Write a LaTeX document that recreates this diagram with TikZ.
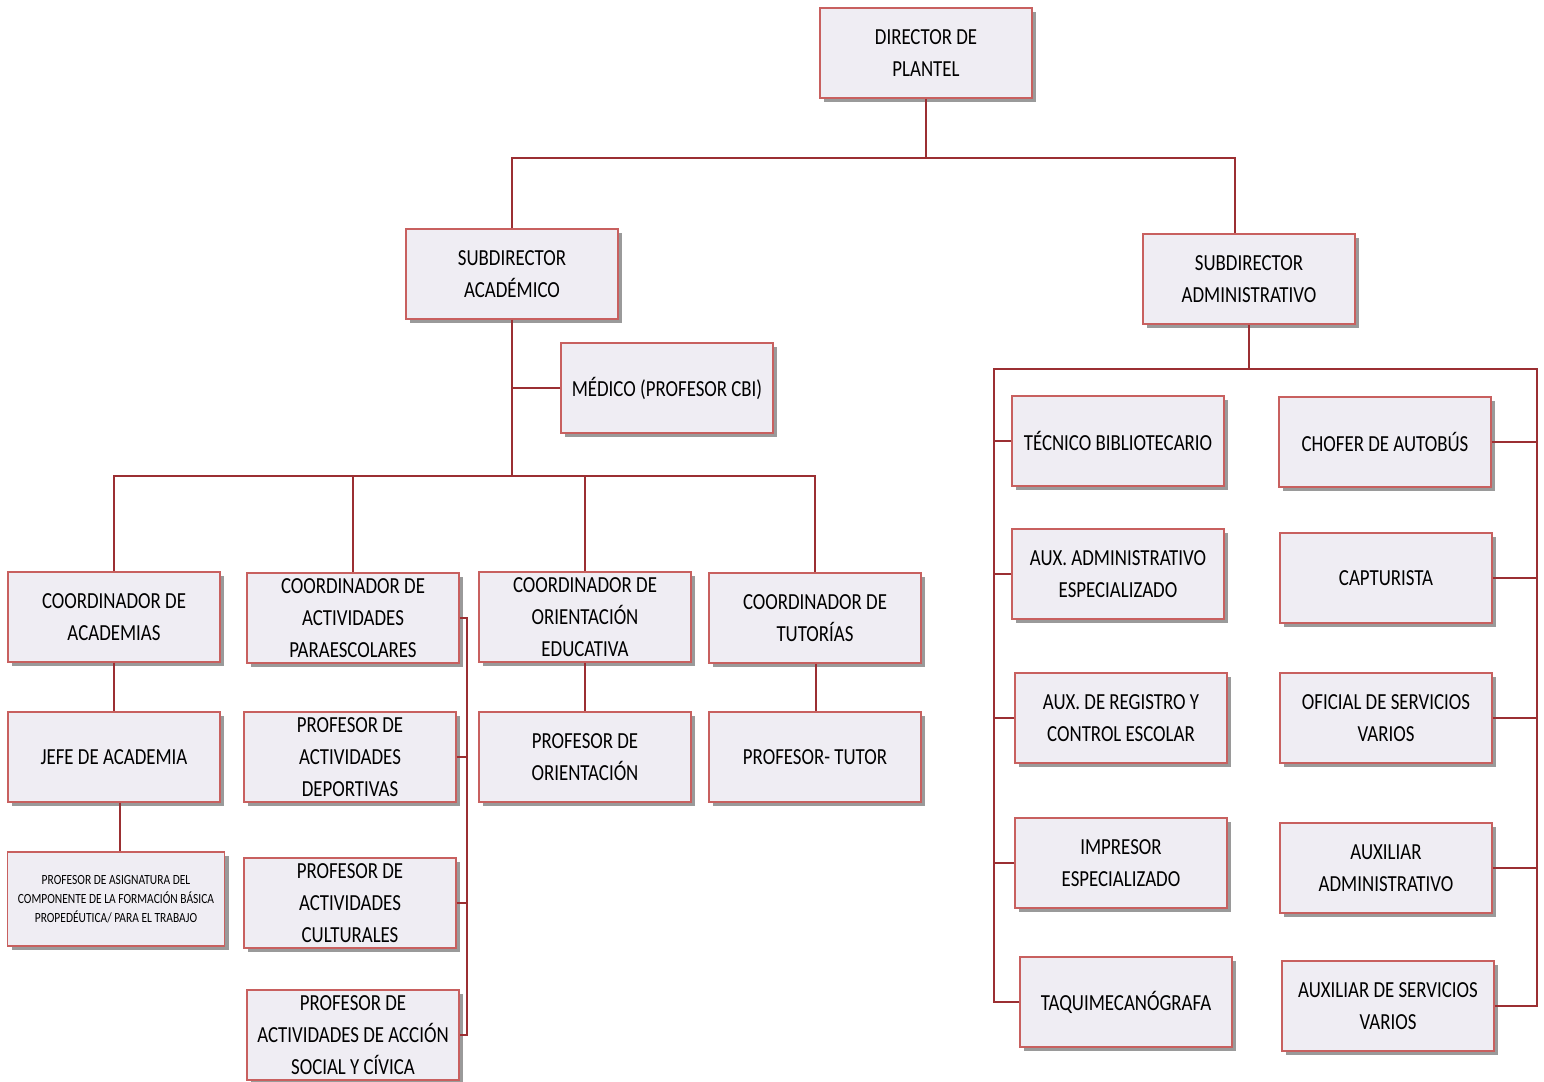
\documentclass[tikz,border=0pt]{standalone}
\usepackage{fontspec}
\setmainfont{Carlito}[FakeStretch=0.82]
\usetikzlibrary{shadows,calc}
\definecolor{boxfill}{HTML}{EFEDF3}
\definecolor{boxline}{HTML}{C8605F}
\definecolor{conn}{HTML}{9B2F32}
\definecolor{shade}{HTML}{9A9A9A}
\begin{document}
\begin{tikzpicture}[x=0.5pt,y=-0.5pt,
 orgbox/.style={draw=boxline, line width=0.6pt, fill=boxfill, minimum width=106pt, minimum height=45pt, inner xsep=2pt, inner ysep=0pt, align=center, font=\fontsize{11.5}{16}\selectfont, drop shadow={shadow xshift=2pt, shadow yshift=-2pt, fill=shade, opacity=1}},
 smallbox/.style={orgbox, minimum width=108.5pt, minimum height=47pt, font=\fontsize{7}{9.5}\selectfont},
 link/.style={draw=conn, line width=0.75pt}]
\useasboundingbox (0,0) rectangle (1544,1082);
\fill[white] (0,0) rectangle (1544,1082);
% top
\node[orgbox] (dir) at (926,53) {DIRECTOR DE\\PLANTEL};
\node[orgbox] (sac) at (512,274) {SUBDIRECTOR\\ACADÉMICO};
\node[orgbox] (sad) at (1249,279) {SUBDIRECTOR\\ADMINISTRATIVO};
\node[orgbox] (med) at (667,388) {MÉDICO (PROFESOR CBI)};
% academic coordinators
\node[orgbox] (cac) at (114,617) {COORDINADOR DE\\ACADEMIAS};
\node[orgbox] (cpa) at (353,618) {COORDINADOR DE\\ACTIVIDADES\\PARAESCOLARES};
\node[orgbox] (cor) at (585,617) {COORDINADOR DE\\ORIENTACIÓN\\EDUCATIVA};
\node[orgbox] (ctu) at (815,618) {COORDINADOR DE\\TUTORÍAS};
\node[orgbox] (jef) at (114,757) {JEFE DE ACADEMIA};
\node[smallbox] (pas) at (116,899) {PROFESOR DE ASIGNATURA DEL\\COMPONENTE DE LA FORMACIÓN BÁSICA\\PROPEDÉUTICA/ PARA EL TRABAJO};
\node[orgbox] (pde) at (350,757) {PROFESOR DE\\ACTIVIDADES\\DEPORTIVAS};
\node[orgbox] (pcu) at (350,903) {PROFESOR DE\\ACTIVIDADES\\CULTURALES};
\node[orgbox] (pso) at (353,1035) {PROFESOR DE\\ACTIVIDADES DE ACCIÓN\\SOCIAL Y CÍVICA};
\node[orgbox] (por) at (585,757) {PROFESOR DE\\ORIENTACIÓN};
\node[orgbox] (ptu) at (815,757) {PROFESOR- TUTOR};
% administrative
\node[orgbox] (tbi) at (1118,441) {TÉCNICO BIBLIOTECARIO};
\node[orgbox] (aae) at (1118,574) {AUX. ADMINISTRATIVO\\ESPECIALIZADO};
\node[orgbox] (arc) at (1121,718) {AUX. DE REGISTRO Y\\CONTROL ESCOLAR};
\node[orgbox] (ies) at (1121,863) {IMPRESOR\\ESPECIALIZADO};
\node[orgbox] (taq) at (1126,1002) {TAQUIMECANÓGRAFA};
\node[orgbox] (cho) at (1385,442) {CHOFER DE AUTOBÚS};
\node[orgbox] (cap) at (1386,578) {CAPTURISTA};
\node[orgbox] (osv) at (1386,718) {OFICIAL DE SERVICIOS\\VARIOS};
\node[orgbox] (aad) at (1386,868) {AUXILIAR\\ADMINISTRATIVO};
\node[orgbox] (asv) at (1388,1006) {AUXILIAR DE SERVICIOS\\VARIOS};
% connectors: top
\coordinate (j1) at (926,158);
\coordinate (j2) at (512,476);
\coordinate (j3) at (467,618);
\coordinate (j4) at (1249,369);
\coordinate (lb) at (994,369);
\coordinate (rb) at (1537,369);
\draw[link] (dir.south) -- (j1);
\draw[link] (sac.north) |- (j1) -| ([xshift=-7pt]sad.north);
\draw[link] (sac.south) -- (j2);
\draw[link] (med.west) -- (med.west -| sac.south);
\draw[link] (cac.north) |- (j2) -| (ctu.north);
\draw[link] (cpa.north) -- (cpa.north |- j2);
\draw[link] (cor.north) -- (cor.north |- j2);
\draw[link] (cac.south) -- (jef.north);
\draw[link] ([xshift=3pt]jef.south) -- ([xshift=2pt]pas.north);
\draw[link] (cor.south) -- (por.north);
\draw[link] ([xshift=0.5pt]ctu.south) -- ([xshift=0.5pt]ptu.north);
\draw[link] (cpa.east) -- (j3) |- (pso.east);
\draw[link] (pde.east) -- (pde.east -| j3);
\draw[link] (pcu.east) -- (pcu.east -| j3);
% administrative connectors
\draw[link] (sad.south) -- (j4);
\draw[link] (taq.west) -| (lb) -- (rb) |- (asv.east);
\draw[link] (tbi.west) -- (tbi.west -| lb);
\draw[link] (aae.west) -- (aae.west -| lb);
\draw[link] (arc.west) -- (arc.west -| lb);
\draw[link] (ies.west) -- (ies.west -| lb);
\draw[link] (cho.east) -- (cho.east -| rb);
\draw[link] (cap.east) -- (cap.east -| rb);
\draw[link] (osv.east) -- (osv.east -| rb);
\draw[link] (aad.east) -- (aad.east -| rb);
\end{tikzpicture}
\end{document}
